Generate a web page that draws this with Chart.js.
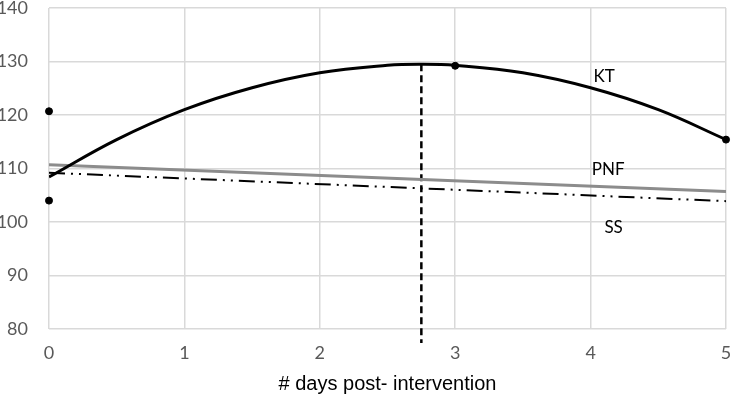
<!DOCTYPE html>
<html>
<head>
<meta charset="utf-8">
<script src="https://cdn.jsdelivr.net/npm/chart.js@4/dist/chart.umd.min.js"></script>
<style>
  html, body { margin: 0; padding: 0; background: #fff; }
  #wrap { width: 731px; height: 405px; }
</style>
</head>
<body>
<div id="wrap"><canvas id="myChart"></canvas></div>
<script>
// observed points (KT group)
const ktDays = [0, 0, 3, 5];
const ktValues = [120.7, 104.0, 129.2, 115.4];

// trend curves
const ktTrendDays = [0, 0.5, 1, 1.5, 2, 2.5, 2.75, 3, 3.5, 4, 4.5, 5];
const ktTrend = [108.4, 115.4, 121.0, 125.1, 127.9, 129.3, 129.5, 129.3, 127.9, 125.1, 121.0, 115.4];
const pnfDays = [0, 5];
const pnfTrend = [110.7, 105.7];
const ssDays = [0, 5];
const ssTrend = [109.2, 103.9];

// peak marker
const peakDay = 2.75;
const peakRange = [129.5, 77.4];

const xTicks = [0, 1, 2, 3, 4, 5];
const yTicks = [80, 90, 100, 110, 120, 130, 140];

const toXY = (xs, ys) => xs.map((x, i) => ({ x: x, y: ys[i] }));

const labels = [
    { text: 'KT', x: 4.1, y: 127.2 },
    { text: 'PNF', x: 4.13, y: 109.9 },
    { text: 'SS', x: 4.17, y: 99.0 }
];

const labelPlugin = {
    id: 'seriesLabels',
    afterDatasetsDraw(chart) {
        const c = chart.ctx;
        const xs = chart.scales.x, ys = chart.scales.y;
        c.save();
        c.font = '17px Lato, sans-serif';
        c.fillStyle = '#000';
        c.textAlign = 'center';
        c.textBaseline = 'middle';
        labels.forEach(l => c.fillText(l.text, xs.getPixelForValue(l.x), ys.getPixelForValue(l.y)));
        c.restore();
    }
};

const ctx = document.getElementById('myChart').getContext('2d');
const myChart = new Chart(ctx, {
    type: 'scatter',
    data: {
        datasets: [
            {
                label: 'KT trend',
                data: toXY(ktTrendDays, ktTrend),
                showLine: true,
                borderColor: '#000',
                borderWidth: 3,
                pointRadius: 0,
                tension: 0.4
            },
            {
                label: 'PNF',
                data: toXY(pnfDays, pnfTrend),
                showLine: true,
                borderColor: '#8c8c8c',
                borderWidth: 3,
                pointRadius: 0
            },
            {
                label: 'SS',
                data: toXY(ssDays, ssTrend),
                showLine: true,
                borderColor: '#000',
                borderWidth: 2,
                borderDash: [16, 6, 2, 6, 2, 6],
                pointRadius: 0
            },
            {
                label: 'peak',
                data: toXY([peakDay, peakDay], peakRange),
                showLine: true,
                borderColor: '#000',
                borderWidth: 2.5,
                borderDash: [7, 4],
                pointRadius: 0,
                clip: false
            },
            {
                label: 'KT',
                data: toXY(ktDays, ktValues),
                backgroundColor: '#000',
                borderColor: '#000',
                pointRadius: 3.5,
                clip: false
            }
        ]
    },
    options: {
        responsive: true,
        maintainAspectRatio: false,
        animation: false,
        layout: { autoPadding: false, padding: { right: 5, top: 8, left: 0, bottom: 0 } },
        plugins: {
            legend: { display: false },
            tooltip: { enabled: false }
        },
        scales: {
            x: {
                type: 'linear',
                min: 0,
                max: 5,
                afterBuildTicks: axis => { axis.ticks = xTicks.map(v => ({ value: v })); },
                afterFit: axis => { axis.height = 76; axis.paddingLeft = 0; axis.paddingRight = 0; },
                grid: { color: '#d9d9d9', lineWidth: 1.5, drawTicks: false },
                border: { display: false },
                ticks: { color: '#595959', font: { family: 'Lato, sans-serif', size: 18 }, padding: 13 },
                title: {
                    display: true,
                    text: '# days post- intervention',
                    color: '#000',
                    font: { family: '"Liberation Sans", Arial, sans-serif', size: 20 },
                    padding: { top: 0, bottom: 9 }
                }
            },
            y: {
                min: 80,
                max: 140,
                afterBuildTicks: axis => { axis.ticks = yTicks.map(v => ({ value: v })); },
                afterFit: axis => { axis.width = 49; axis.paddingTop = 0; axis.paddingBottom = 0; },
                grid: { color: '#d9d9d9', lineWidth: 1.5, drawTicks: false },
                border: { display: false },
                ticks: { color: '#595959', font: { family: 'Lato, sans-serif', size: 18 }, padding: 21 }
            }
        }
    },
    plugins: [labelPlugin]
});
</script>
</body>
</html>
